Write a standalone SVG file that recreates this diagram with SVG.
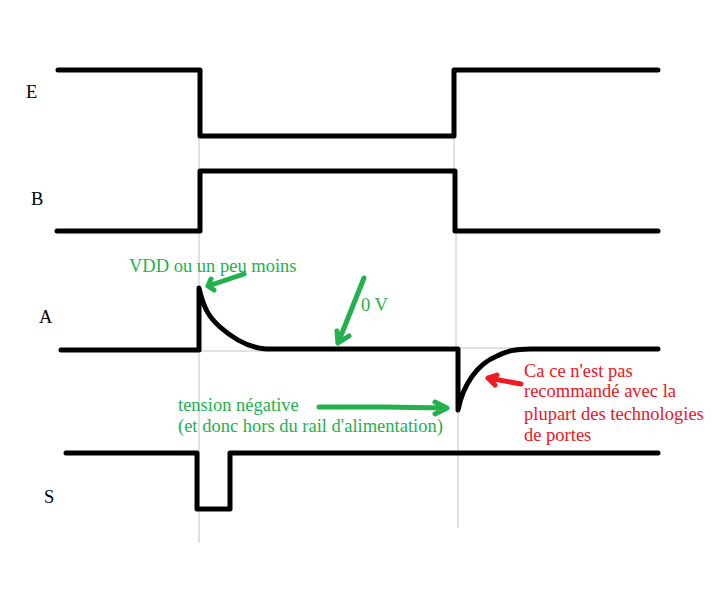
<svg xmlns="http://www.w3.org/2000/svg" width="726" height="609" viewBox="0 0 726 609">
<style>
text{font-family:"Liberation Serif","Times New Roman",serif;font-size:18.5px}
.lbl{fill:#000}
.g{fill:#22b14c}
.r{fill:#f0141e}
.w{fill:none;stroke:#000;stroke-width:5;stroke-linecap:round;stroke-linejoin:round}
.guide{fill:none;stroke:#c4c4c4;stroke-width:1}
.ga{fill:none;stroke:#22b14c;stroke-width:5;stroke-linecap:round;stroke-linejoin:round}
.ra{fill:none;stroke:#ed1c24;stroke-width:5;stroke-linecap:round;stroke-linejoin:round}
</style>
<rect width="726" height="609" fill="#fff"/>
<g id="guides">
<path class="guide" d="M199 70V543M454 136V232M456 232V348M458 410V528M199 351H265M458 348H525"/>
</g>
<g id="signal-E">
<text class="lbl" x="26" y="98">E</text>
<path class="w" d="M58 70H200V136H454V70H658"/>
</g>
<g id="signal-B">
<text class="lbl" x="31" y="205">B</text>
<path class="w" d="M57 231H200V171H455V231H658"/>
</g>
<g id="signal-A">
<text class="lbl" x="39" y="323">A</text>
<path class="w" d="M61 350H199V288C204 310 210 318 220 327C236 341 250 348 266 349H458V410C463 385 477 364 497 356C507 351 515 349 530 349H658"/>
</g>
<g id="signal-S">
<text class="lbl" x="44" y="503">S</text>
<path class="w" d="M66 453H197V509H230V453H658"/>
</g>
<g id="annotations">
<text class="g" x="129" y="272">VDD ou un peu moins</text>
<path class="ga" d="M244 274L208 286M208 286L211 279M208 286L214 290"/>
<text class="g" x="361" y="311">0 V</text>
<path class="ga" d="M364 278L338 343M338 343L337 331M338 343L349 336"/>
<text class="g" x="178" y="411">tension négative</text>
<text class="g" x="178" y="432">(et donc hors du rail d'alimentation)</text>
<path class="ga" d="M319 407H383L447 408M447 408L435 402M447 408L435 414"/>
<text class="r" x="524" y="377">Ca ce n'est pas</text>
<text class="r" x="524" y="397">recommandé avec la</text>
<text class="r" x="524" y="420">plupart des technologies</text>
<text class="r" x="524" y="441">de portes</text>
<path class="ra" d="M521 384L488 378M488 378L497 375M488 378L495 385"/>
</g>
</svg>
